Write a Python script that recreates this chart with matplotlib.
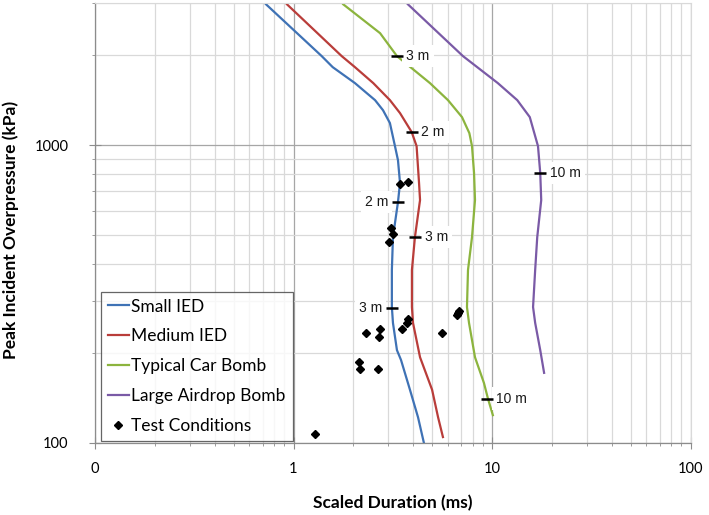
import matplotlib
matplotlib.use('Agg')
import matplotlib.pyplot as plt
from matplotlib.ticker import LogLocator, FixedLocator, FixedFormatter, NullFormatter

plt.rcParams['font.family'] = ['Lato', 'DejaVu Sans']

# curves (scaled duration ms, overpressure kPa)
small_x = [0.727, 1.387, 1.576, 2.04, 2.338, 2.575, 2.824, 3.06, 3.245, 3.36, 3.44, 3.36, 3.17, 3.13, 3.13, 3.17, 3.32, 3.48, 3.86, 4.24, 4.54]
small_y = [2970, 1990, 1827, 1615, 1495, 1416, 1310, 1186, 992, 890, 746, 644, 491, 381, 286, 253, 205, 190, 151, 122, 100]

medium_x = [0.927, 1.749, 2.04, 2.523, 3.06, 3.44, 3.94, 4.17, 4.29, 4.34, 4.09, 3.95, 3.95, 4.0, 4.34, 4.99, 5.35, 5.66]
medium_y = [2970, 1990, 1827, 1615, 1416, 1281, 1106, 992, 746, 654, 491, 381, 286, 253, 194, 151, 122, 104.7]

car_x = [1.78, 2.73, 3.32, 4.87, 6.00, 7.06, 7.69, 7.93, 8.12, 8.21, 7.93, 7.57, 7.48, 7.66, 8.21, 9.11, 9.54, 10.1]
car_y = [2970, 2376, 1990, 1615, 1416, 1242, 1097, 992, 806, 654, 491, 381, 286, 253, 194, 159, 141, 124]

airdrop_x = [3.77, 7.14, 10.7, 13.4, 15.5, 17.05, 17.5, 17.7, 16.9, 16.5, 16.1, 16.5, 17.5, 18.3]
airdrop_y = [2970, 1990, 1615, 1416, 1242, 992, 806, 654, 491, 381, 286, 253, 205, 172]

# test conditions
test_x = [3.44, 3.77, 3.10, 3.17, 3.03, 6.74, 6.82, 6.66, 3.77, 3.73, 3.52, 2.73, 2.70, 2.32, 5.60, 2.14, 2.16, 2.67, 1.28]
test_y = [740, 751, 527, 503, 473, 273, 277, 269, 261, 253, 241, 241, 227, 234, 234, 187, 177, 177, 107]

# standoff labels
label_x = [3.36, 3.13, 3.94, 4.09, 3.31, 9.4, 17.5]
label_y = [644, 284, 1106, 492, 1994, 141, 806]
label_txt = ['2 m', '3 m', '2 m', '3 m', '3 m', '10 m', '10 m']
label_side = ['left', 'left', 'right', 'right', 'right', 'right', 'right']

names = ['Small IED', 'Medium IED', 'Typical Car Bomb', 'Large Airdrop Bomb']
colors = ['#3F72B5', '#B93D3A', '#8CB43E', '#7A5AA6']

fig = plt.figure(figsize=(7.09, 5.15), dpi=100)
ax = fig.add_axes([95 / 709, 72 / 515, 595.5 / 709, 440 / 515])
ax.set_xscale('log')
ax.set_yscale('log')
ax.set_xlim(0.1, 100)
ax.set_ylim(100, 3000)

ax.xaxis.set_minor_locator(LogLocator(base=10, subs=range(2, 10)))
ax.yaxis.set_minor_locator(LogLocator(base=10, subs=range(2, 10)))
ax.xaxis.set_major_locator(FixedLocator([0.1, 1, 10, 100]))
ax.xaxis.set_major_formatter(FixedFormatter(['0', '1', '10', '100']))
ax.yaxis.set_major_locator(FixedLocator([100, 1000]))
ax.yaxis.set_major_formatter(FixedFormatter(['100', '1000']))
ax.xaxis.set_minor_formatter(NullFormatter())
ax.yaxis.set_minor_formatter(NullFormatter())

ax.grid(which='minor', color='#D9D9D9', linewidth=0.9)
ax.grid(which='major', color='#A6A6A6', linewidth=0.9)
ax.set_axisbelow(True)

for s in ['top', 'right']:
    ax.spines[s].set_color('#D9D9D9')
for s in ['left', 'bottom']:
    ax.spines[s].set_color('#8C8C8C')
    ax.spines[s].set_linewidth(0.9)

ax.tick_params(which='major', direction='inout', length=8, color='#8C8C8C', labelsize=10.5)
ax.tick_params(axis='x', which='major', pad=10)
ax.tick_params(axis='y', which='major', pad=15)
ax.tick_params(which='minor', direction='out', length=2, color='#8C8C8C')

series = [(small_x, small_y), (medium_x, medium_y), (car_x, car_y), (airdrop_x, airdrop_y)]
for (xs, ys), name, c in zip(series, names, colors):
    ax.plot(xs, ys, color=c, linewidth=1.6, label=name, solid_joinstyle='round')

ax.plot(test_x, test_y, linestyle='none', marker='D', markersize=4.2, color='black', label='Test Conditions', zorder=5)

for x, y, t, side in zip(label_x, label_y, label_txt, label_side):
    ax.plot([x], [y], marker='_', markersize=8, markeredgewidth=1.8, color='black', zorder=6)
    off = 7 if side == 'right' else -7
    ax.annotate(t, (x, y), xytext=(off, 0), textcoords='offset points',
                ha='left' if side == 'right' else 'right', va='center',
                fontsize=10, family='Liberation Sans', color='#1a1a1a',
                bbox=dict(boxstyle='square,pad=0.3', fc='white', ec='none'), zorder=4)

ax.set_xlabel('Scaled Duration (ms)', fontsize=12.5, fontweight='bold', labelpad=13)
ax.set_ylabel('Peak Incident Overpressure (kPa)', fontsize=12.5, fontweight='bold')
ax.yaxis.set_label_coords(-0.128, 0.484)

leg = ax.legend(loc='lower left', bbox_to_anchor=(6 / 595.5, 2 / 440), fontsize=12.5,
                frameon=True, fancybox=False, edgecolor='#404040', handlelength=1.2,
                handletextpad=0.15, labelspacing=0.8, borderpad=0.4, borderaxespad=0)
leg.get_frame().set_linewidth(0.9)

fig.savefig('out.png', dpi=100)
